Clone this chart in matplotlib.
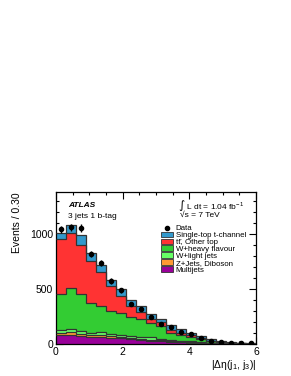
import numpy as np
import matplotlib
matplotlib.use("Agg")
import matplotlib.pyplot as plt
from matplotlib.patches import Patch
from matplotlib.lines import Line2D

plt.rcParams['font.family'] = ['Liberation Sans', 'DejaVu Sans']
plt.rcParams['mathtext.default'] = 'regular'

# binning: 20 bins of width 0.3 in |delta eta(j1, j3)|
edges = np.linspace(0, 6, 21)

# per-process yields per bin
multijets = [80, 85, 75, 62, 60, 58, 52, 44, 40, 32, 28, 22, 17, 13, 9, 6, 4, 2, 1, 1]
zjets_db = [20, 23, 20, 18, 20, 12, 10, 11, 8, 8, 7, 6, 5, 4, 3, 2, 1, 1, 1, 0]
wlight = [25, 27, 25, 25, 28, 25, 23, 20, 20, 20, 15, 12, 10, 8, 6, 4, 3, 2, 1, 1]
wheavy = [330, 377, 334, 265, 237, 210, 195, 175, 157, 135, 115, 65, 50, 40, 27, 13, 7, 4, 2, 1]
ttbar = [500, 496, 451, 390, 310, 225, 160, 95, 65, 30, 35, 25, 18, 15, 10, 7, 5, 3, 2, 1]
single_top = [60, 77, 85, 70, 67, 55, 66, 60, 60, 48, 30, 42, 35, 25, 20, 13, 10, 6, 3, 2]

data = [1045, 1065, 1058, 818, 743, 574, 492, 368, 324, 244, 182, 158, 112, 91, 58, 30, 21, 12, 6, 6]

layers = [
    (multijets, '#990099', 'Multijets'),
    (zjets_db, '#ff9933', 'Z+Jets, Diboson'),
    (wlight, '#66ff66', 'W+light jets'),
    (wheavy, '#33cc33', 'W+heavy flavour'),
    (ttbar, '#ff3333', 'tt\u0304, Other top'),
    (single_top, '#3399cc', 'Single-top t-channel'),
]

fig = plt.figure(figsize=(2.91, 3.76), dpi=100)
ax = fig.add_axes([0.192, 0.085, 0.688, 0.404])

edge_col = '#333333'
base = np.zeros(len(edges) - 1)
for vals, col, lab in layers:
    top = base + np.array(vals, dtype=float)
    ax.stairs(top, edges, baseline=base, fill=True, facecolor=col,
              edgecolor='none', zorder=2)
    ax.stairs(top, edges, baseline=None, color=edge_col, lw=0.9, zorder=3)
    base = top

centers = 0.5 * (edges[:-1] + edges[1:])
data = np.array(data, dtype=float)
ax.errorbar(centers, data, yerr=np.sqrt(data), fmt='o', color='black',
            ms=3, elinewidth=1.0, capsize=0, zorder=5)

ax.set_xlim(0, 6)
ax.set_ylim(0, 1385)
ax.set_xticks([0, 2, 4, 6])
ax.set_xticks(np.arange(0, 6.01, 0.5), minor=True)
ax.set_yticks([0, 500, 1000])
ax.set_yticks(np.arange(0, 1385, 100), minor=True)
ax.tick_params(which='both', direction='in', top=True, right=True,
               labelsize=7.5, width=0.8, pad=2)
ax.tick_params(which='major', length=5)
ax.tick_params(which='minor', length=2.5)
for sp in ax.spines.values():
    sp.set_linewidth(0.9)

ax.set_ylabel('Events / 0.30', loc='top', fontsize=7.5, labelpad=6)
ax.set_xlabel('|Δη(j$_1$, j$_3$)|', loc='right', fontsize=7.5, labelpad=1)

ax.text(0.06, 0.915, 'ATLAS', transform=ax.transAxes, fontsize=6,
        fontweight='bold', fontstyle='italic', va='center')
ax.text(0.06, 0.84, '3 jets 1 b-tag', transform=ax.transAxes, fontsize=6,
        va='center')
ax.text(0.61, 0.915, '∫ L dt = 1.04 fb$^{-1}$', transform=ax.transAxes,
        fontsize=6, va='center')
ax.text(0.62, 0.845, '√s = 7 TeV', transform=ax.transAxes,
        fontsize=6, va='center')

handles = [Line2D([], [], marker='o', ls='none', color='black', ms=3)]
labels = ['Data']
for vals, col, lab in reversed(layers):
    handles.append(Patch(facecolor=col, edgecolor=edge_col, lw=0.6))
    labels.append(lab)
ax.legend(handles, labels, loc='upper left', bbox_to_anchor=(0.52, 0.79),
          frameon=False, fontsize=5.7, handlelength=1.5, handleheight=0.75,
          labelspacing=-0.1, handletextpad=0.4, borderpad=0.1,
          borderaxespad=0)

fig.savefig('out.png', dpi=100)
